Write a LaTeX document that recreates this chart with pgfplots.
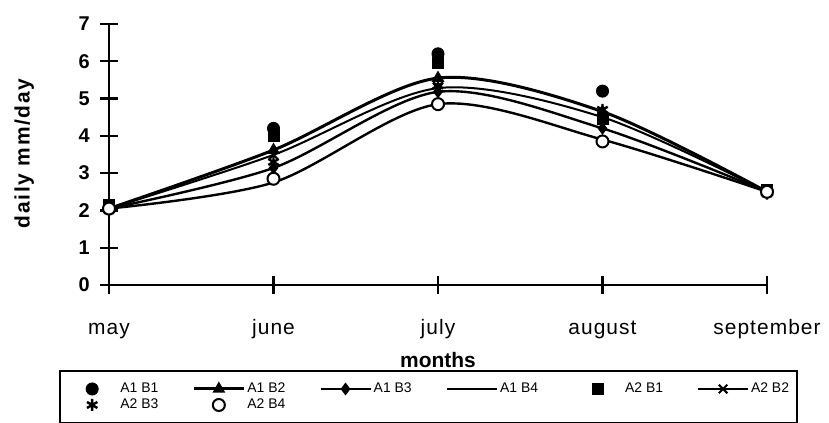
\documentclass[border=0pt]{standalone}
\usepackage{fontspec}
\setmainfont{Liberation Sans}
\usepackage{pgfplots}
\pgfplotsset{compat=1.18}
\pgfplotsset{markleg/.style={legend image code/.code={\path (0bp,0bp) (50bp,0bp); \draw[##1] plot coordinates {(25bp,0bp)};}}}
\begin{document}
\begin{tikzpicture}
\begin{axis}[
  scale only axis, width=658bp, height=261bp,
  xmin=0, xmax=4, ymin=0, ymax=7,
  clip=false,
  axis lines=left,
  axis line style={line width=2.6bp,-},
  xtick={0,1,2,3,4},
  xticklabels={may,june,july,august,september},
  ytick={0,1,2,3,4,5,6,7},
  tick align=center,
  major tick length=18bp,
  tick style={line width=2.4bp, black},
  /pgf/number format/assume math mode=true,
  xticklabel style={font=\fontsize{21}{24}\selectfont\addfontfeatures{LetterSpace=5}, anchor=base, yshift=-40bp},
  yticklabel style={font=\fontsize{20}{22}\selectfont\bfseries, anchor=east, inner sep=0pt, xshift=-10bp},
  xlabel={months},
  xlabel style={at={(axis description cs:0.5,-0.318)}, anchor=base, font=\fontsize{21}{24}\selectfont\bfseries},
  ylabel={daily mm/day},
  ylabel style={at={(axis description cs:-0.129,0.504)}, anchor=center, font=\fontsize{21}{24}\selectfont\bfseries\addfontfeatures{LetterSpace=8}},
  legend columns=6,
  legend image code/.code={\draw[mark repeat=2,mark phase=2,#1] plot coordinates {(0bp,0bp) (25bp,0bp) (50bp,0bp)};},
  legend style={at={(0.4856,-0.326)}, anchor=north, draw=black, line width=1.8bp,
    font=\fontsize{14}{16}\selectfont,
    inner xsep=6bp, inner ysep=10bp,
    nodes={text height=10.5bp, text depth=3.5bp, inner ysep=1bp},
    cells={anchor=west},
    /tikz/every even column/.append style={column sep=32bp}},
]
\addplot[only marks, markleg, mark=*, mark size=6bp, black, line width=1bp]
  coordinates {(0,2.05) (1,4.2) (2,6.2) (3,5.2) (4,2.5)};
\addlegendentry{A1 B1}
\addplot[smooth, black, line width=3bp, mark=triangle*, mark size=4.5bp]
  coordinates {(0,2.05) (1,3.62) (2,5.55) (3,4.65) (4,2.5)};
\addlegendentry{A1 B2}
\addplot[smooth, black, line width=2.4bp, mark=diamond*, mark size=4.5bp]
  coordinates {(0,2.05) (1,3.14) (2,5.18) (3,4.2) (4,2.5)};
\addlegendentry{A1 B3}
\addplot[smooth, black, line width=2.4bp, no marks]
  coordinates {(0,2.05) (1,2.75) (2,4.85) (3,3.9) (4,2.5)};
\addlegendentry{A1 B4}
\addplot[only marks, markleg, mark=square*, mark size=5.5bp, black, line width=1bp]
  coordinates {(0,2.15) (1,4.0) (2,5.95) (3,4.45) (4,2.55)};
\addlegendentry{A2 B1}
\addplot[smooth, black, line width=2bp, mark=x, mark size=6bp]
  coordinates {(0,2.05) (1,3.49) (2,5.28) (3,4.5) (4,2.5)};
\addlegendentry{A2 B2}
\addplot[only marks, markleg, mark=asterisk, mark size=6bp, black, line width=2.4bp]
  coordinates {(0,2.0) (1,3.3) (2,5.35) (3,4.7) (4,2.45)};
\addlegendentry{A2 B3}
\addplot[only marks, markleg, mark=*, mark size=6bp, black, line width=2bp, mark options={fill=white}]
  coordinates {(0,2.05) (1,2.85) (2,4.85) (3,3.85) (4,2.5)};
\addlegendentry{A2 B4}
\end{axis}
\pgfresetboundingbox
\path[use as bounding box] (-109bp,-138bp) rectangle (720bp,285bp);
\end{tikzpicture}
\end{document}
